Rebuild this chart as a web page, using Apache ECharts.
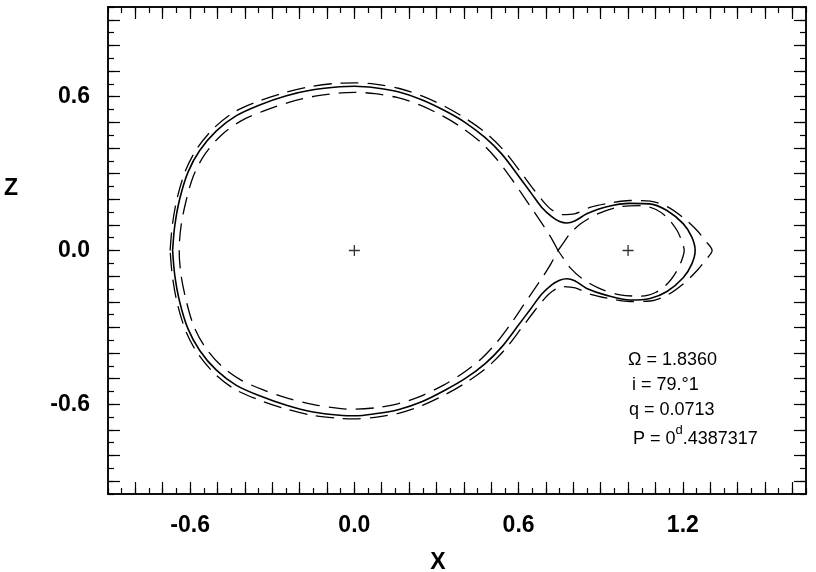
<!DOCTYPE html>
<html><head><meta charset="utf-8">
<script src="https://cdn.jsdelivr.net/npm/echarts@6/dist/echarts.min.js"></script>
<style>html,body{margin:0;padding:0;background:#fff}#c{width:816px;height:572px}</style>
</head><body><div id="c"></div>
<script>
// ---- axis ticks & labels ----
const xMajorTicks = [-0.8,-0.7,-0.6,-0.5,-0.4,-0.3,-0.2,-0.1,0.0,0.1,0.2,0.3,0.4,0.5,0.6,0.7,0.8,0.9,1.0,1.1,1.2,1.3,1.4,1.5,1.6];
const yMajorTicks = [-0.9,-0.8,-0.7,-0.6,-0.5,-0.4,-0.3,-0.2,-0.1,0.0,0.1,0.2,0.3,0.4,0.5,0.6,0.7,0.8,0.9];
const xTickLabels = [-0.6, 0.0, 0.6, 1.2];
const yTickLabels = [-0.6, 0.0, 0.6];

// ---- curves: [x, z] ----
const solidUpper = [[-0.664,0],[-0.656,0.097],[-0.638,0.201],[-0.608,0.305],[-0.565,0.390],[-0.504,0.467],[-0.431,0.526],[-0.346,0.568],[-0.248,0.604],[-0.151,0.627],[-0.053,0.639],[0.002,0.641],[0.075,0.635],[0.160,0.619],[0.246,0.588],[0.331,0.545],[0.404,0.500],[0.477,0.441],[0.538,0.377],[0.599,0.292],[0.648,0.221],[0.684,0.169],[0.721,0.132],[0.750,0.113],[0.776,0.107],[0.805,0.115],[0.849,0.143],[0.922,0.171],[1.007,0.184],[1.080,0.182],[1.142,0.156],[1.202,0.104],[1.233,0.052],[1.245,0]];
const solidLower = [[1.245,0],[1.233,-0.052],[1.202,-0.105],[1.142,-0.160],[1.080,-0.187],[1.007,-0.193],[0.922,-0.175],[0.849,-0.148],[0.805,-0.118],[0.776,-0.110],[0.750,-0.116],[0.721,-0.134],[0.684,-0.171],[0.648,-0.222],[0.599,-0.292],[0.538,-0.377],[0.477,-0.442],[0.404,-0.500],[0.331,-0.545],[0.246,-0.590],[0.160,-0.621],[0.075,-0.637],[0.002,-0.645],[-0.053,-0.643],[-0.151,-0.630],[-0.248,-0.604],[-0.346,-0.567],[-0.431,-0.526],[-0.504,-0.467],[-0.565,-0.390],[-0.608,-0.305],[-0.638,-0.201],[-0.656,-0.097],[-0.664,0]];

const innerPrimaryUpper = [[0.744,0],[0.718,0.051],[0.693,0.093],[0.656,0.152],[0.620,0.208],[0.576,0.277],[0.519,0.358],[0.463,0.421],[0.393,0.479],[0.324,0.524],[0.241,0.567],[0.159,0.596],[0.075,0.612],[0.002,0.617],[-0.049,0.615],[-0.144,0.602],[-0.239,0.578],[-0.335,0.543],[-0.417,0.504],[-0.488,0.448],[-0.547,0.374],[-0.587,0.294],[-0.614,0.197],[-0.633,0.097],[-0.640,0]];
const innerPrimaryLower = [[-0.640,0],[-0.633,-0.097],[-0.614,-0.197],[-0.587,-0.294],[-0.547,-0.374],[-0.488,-0.448],[-0.417,-0.504],[-0.335,-0.543],[-0.239,-0.578],[-0.144,-0.602],[-0.049,-0.617],[0.002,-0.619],[0.075,-0.614],[0.159,-0.598],[0.241,-0.569],[0.324,-0.526],[0.393,-0.481],[0.463,-0.423],[0.519,-0.360],[0.576,-0.279],[0.620,-0.210],[0.656,-0.154],[0.693,-0.095],[0.718,-0.052],[0.744,0]];
const innerSecondary = [[0.744,0],[0.762,0.027],[0.788,0.066],[0.828,0.105],[0.891,0.144],[0.971,0.171],[1.048,0.175],[1.102,0.160],[1.146,0.125],[1.179,0.078],[1.197,0.035],[1.205,0],[1.197,-0.035],[1.179,-0.078],[1.146,-0.127],[1.102,-0.163],[1.048,-0.178],[0.971,-0.173],[0.891,-0.146],[0.828,-0.106],[0.788,-0.067],[0.762,-0.028],[0.744,0]];

const outerUpper = [[-0.673,0],[-0.665,0.099],[-0.647,0.206],[-0.616,0.314],[-0.574,0.399],[-0.512,0.479],[-0.439,0.540],[-0.351,0.582],[-0.250,0.617],[-0.152,0.641],[-0.053,0.653],[0.002,0.654],[0.075,0.649],[0.161,0.633],[0.249,0.602],[0.336,0.559],[0.411,0.512],[0.486,0.454],[0.548,0.388],[0.609,0.304],[0.658,0.234],[0.697,0.183],[0.722,0.158],[0.759,0.140],[0.807,0.144],[0.861,0.168],[0.924,0.183],[1.008,0.195],[1.081,0.193],[1.143,0.171],[1.205,0.125],[1.252,0.078],[1.285,0.035],[1.307,0]];
const outerLower = [[1.307,0],[1.285,-0.035],[1.252,-0.078],[1.205,-0.127],[1.143,-0.174],[1.081,-0.197],[1.008,-0.199],[0.924,-0.186],[0.861,-0.170],[0.807,-0.146],[0.759,-0.141],[0.722,-0.160],[0.697,-0.185],[0.658,-0.236],[0.609,-0.305],[0.548,-0.389],[0.486,-0.455],[0.411,-0.513],[0.336,-0.560],[0.249,-0.604],[0.161,-0.635],[0.075,-0.651],[0.002,-0.657],[-0.053,-0.655],[-0.152,-0.643],[-0.250,-0.618],[-0.351,-0.582],[-0.439,-0.540],[-0.512,-0.479],[-0.574,-0.399],[-0.616,-0.314],[-0.647,-0.206],[-0.665,-0.099],[-0.673,0]];

const centres = [[0.0,0.0],[1.0,0.0]];

const annoLines = ['Ω = 1.8360', 'i = 79.°1', 'q = 0.0713'];
const periodText = ['P = 0', 'd', '.4387317'];
const axisNames = ['X', 'Z'];

const FONT = '"Liberation Sans", Arial, Helvetica, sans-serif';
const chart = echarts.init(document.getElementById('c'), null, {renderer:'canvas'});

function axisBase(extra){
  return Object.assign({
    type:'value', splitLine:{show:false},
    axisLine:{show:true, onZero:false, lineStyle:{color:'#000', width:1.5}},
  }, extra);
}
function minorAx(pos, min, max){
  return axisBase({position:pos, min:min, max:max, interval:0.05,
    axisTick:{show:true, inside:true, length:6, lineStyle:{color:'#000', width:1.2}},
    axisLabel:{show:false}});
}
function majorAx(pos, min, max, ticks, labels, margin){
  return axisBase({position:pos, min:min, max:max, interval:0.05,
    axisTick:{show:true, inside:true, length:12, customValues:ticks, lineStyle:{color:'#000', width:1.2}},
    axisLabel: labels ? {show:true, customValues:labels, margin:margin, formatter:v=>v.toFixed(1),
      fontFamily:FONT, fontSize:23, fontWeight:'bold', color:'#000'} : {show:false}});
}
const xMin=-0.9, xMax=1.65, yMin=-0.95, yMax=0.95;
const xb = majorAx('bottom', xMin, xMax, xMajorTicks, xTickLabels, 20);
xb.name=axisNames[0]; xb.nameLocation='middle'; xb.nameGap=57;
xb.nameTextStyle={fontFamily:FONT, fontSize:23, fontWeight:'bold', color:'#000', padding:[0,38,0,0]};
const yl = majorAx('left', yMin, yMax, yMajorTicks, yTickLabels, 18);

const dash = {color:'#000', width:1.3, type:[18,9]};
function lineS(data, style){
  return {type:'line', data:data, xAxisIndex:0, yAxisIndex:0, showSymbol:false, symbol:'none',
    smooth:0.3, lineStyle:style, silent:true, z:3};
}

chart.setOption({
  animation:false,
  backgroundColor:'#fff',
  grid:{left:108, right:10, top:7, bottom:78, containLabel:false, outerBoundsMode:'none'},
  xAxis:[ minorAx('bottom', xMin, xMax), xb, minorAx('top', xMin, xMax), majorAx('top', xMin, xMax, xMajorTicks, null) ],
  yAxis:[ minorAx('left', yMin, yMax), yl, minorAx('right', yMin, yMax), majorAx('right', yMin, yMax, yMajorTicks, null) ],
  series:[
    lineS(solidUpper.concat(solidLower), {color:'#000', width:1.6, type:'solid'}),
    lineS(innerPrimaryUpper.concat(innerPrimaryLower), dash),
    lineS(innerSecondary, dash),
    lineS(outerUpper.concat(outerLower), dash),
    {type:'scatter', data:centres, xAxisIndex:0, yAxisIndex:0, symbolSize:11,
     symbol:'path://M4.4,0H5.6V4.4H10V5.6H5.6V10H4.4V5.6H0V4.4H4.4Z',
     itemStyle:{color:'#000'}, silent:true, z:4}
  ],
  graphic:[
    {type:'text', left:4, top:177, style:{text:axisNames[1], font:'bold 23px '+FONT, fill:'#000'}},
    {type:'text', left:628, top:351, style:{text:annoLines[0], font:'18px '+FONT, fill:'#000'}},
    {type:'text', left:632, top:376, style:{text:annoLines[1], font:'18px '+FONT, fill:'#000'}},
    {type:'text', left:629, top:401, style:{text:annoLines[2], font:'18px '+FONT, fill:'#000'}},
    {type:'text', left:633, top:424, style:{
      text:'{a|'+periodText[0]+'}{s|'+periodText[1]+'}{a|'+periodText[2]+'}',
      rich:{a:{fontFamily:FONT, fontSize:18, color:'#000', lineHeight:24, verticalAlign:'bottom'},
            s:{fontFamily:FONT, fontSize:13, color:'#000', lineHeight:24, verticalAlign:'top'}}}}
  ]
});
</script></body></html>
